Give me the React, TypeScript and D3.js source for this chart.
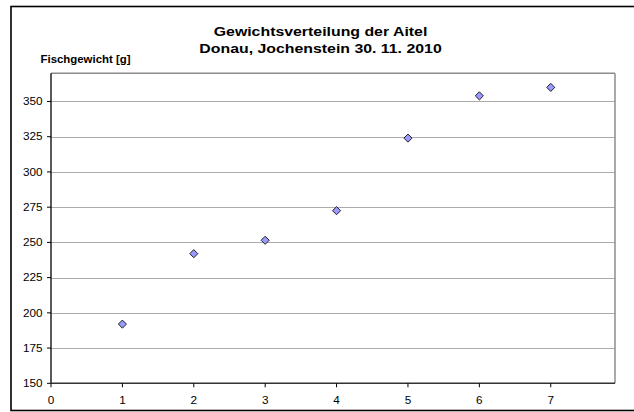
import React from "react";
import * as d3 from "d3";

const sampleNumbers = [1, 2, 3, 4, 5, 6, 7];
const weights = [192, 242, 251.5, 272.5, 324, 354, 360];
const yTicks = [150, 175, 200, 225, 250, 275, 300, 325, 350];
const xTicks = [0, 1, 2, 3, 4, 5, 6, 7];
const titleLines = ["Gewichtsverteilung der Aitel", "Donau, Jochenstein 30. 11. 2010"];
const yAxisTitle = "Fischgewicht [g]";

const W = 634;
const H = 412;
const plot = { left: 51, right: 615, top: 73.3, bottom: 383.3 };
const font = "'Liberation Sans', Arial, sans-serif";

export default function App() {
  const x = d3.scaleLinear().domain([0, 7.9]).range([plot.left, plot.right]);
  const y = d3.scaleLinear().domain([150, 370]).range([plot.bottom, plot.top]);
  const diamond = d3.symbol().type(d3.symbolDiamond2).size(42)();

  return (
    <svg
      width={W}
      height={H}
      style={{ position: "absolute", left: 0, top: 0, background: "#fff" }}
      fontFamily={font}
    >
      <rect x={0} y={0} width={W} height={H} fill="#fff" />
      <rect x={11} y={6.5} width={640} height={404} fill="none" stroke="#000" strokeWidth={1.6} />
      {yTicks.filter((t) => t > 150).map((t) => (
        <line key={"g" + t} x1={plot.left} x2={plot.right} y1={Math.round(y(t)) + 0.5} y2={Math.round(y(t)) + 0.5} stroke="#ababab" strokeWidth={1} />
      ))}
      <line x1={plot.left} x2={plot.right} y1={plot.top} y2={plot.top} stroke="#8c8c8c" strokeWidth={1.5} />
      <line x1={plot.right} x2={plot.right} y1={plot.top} y2={plot.bottom} stroke="#8c8c8c" strokeWidth={1.5} />
      <line x1={plot.left} x2={plot.left} y1={plot.top} y2={plot.bottom} stroke="#000" strokeWidth={1.3} />
      <line x1={plot.left} x2={plot.right} y1={plot.bottom} y2={plot.bottom} stroke="#333" strokeWidth={1.5} />
      {yTicks.map((t) => (
        <g key={"y" + t}>
          <line x1={plot.left - 4} x2={plot.left} y1={y(t)} y2={y(t)} stroke="#000" strokeWidth={1} />
          <g transform={`translate(42.5,${y(t) + 3.7}) scale(1.14,1)`}>
            <text x={0} y={0} textAnchor="end" fontSize={10.3} fill="#000">
              {t}
            </text>
          </g>
        </g>
      ))}
      {xTicks.map((t) => (
        <g key={"x" + t}>
          <line x1={x(t)} x2={x(t)} y1={plot.bottom} y2={plot.bottom + 4} stroke="#000" strokeWidth={1} />
          <g transform={`translate(${x(t)},404) scale(1.14,1)`}>
            <text x={0} y={0} textAnchor="middle" fontSize={10.3} fill="#000">
              {t}
            </text>
          </g>
        </g>
      ))}
      {sampleNumbers.map((n, i) => (
        <path
          key={"p" + n}
          d={diamond as string}
          transform={`translate(${x(n)},${y(weights[i])})`}
          fill="#9999ff"
          stroke="#222"
          strokeWidth={1}
        />
      ))}
      <g transform="translate(320.5,35.7) scale(1.22,1)">
        <text x={0} y={0} textAnchor="middle" fontSize={13} fontWeight="bold" fill="#000">
          {titleLines[0]}
        </text>
      </g>
      <g transform="translate(320.5,53.3) scale(1.22,1)">
        <text x={0} y={0} textAnchor="middle" fontSize={13} fontWeight="bold" fill="#000">
          {titleLines[1]}
        </text>
      </g>
      <text x={40.5} y={62.7} fontSize={10} fontWeight="bold" fill="#000" textLength={90} lengthAdjust="spacingAndGlyphs">
        {yAxisTitle}
      </text>
    </svg>
  );
}
